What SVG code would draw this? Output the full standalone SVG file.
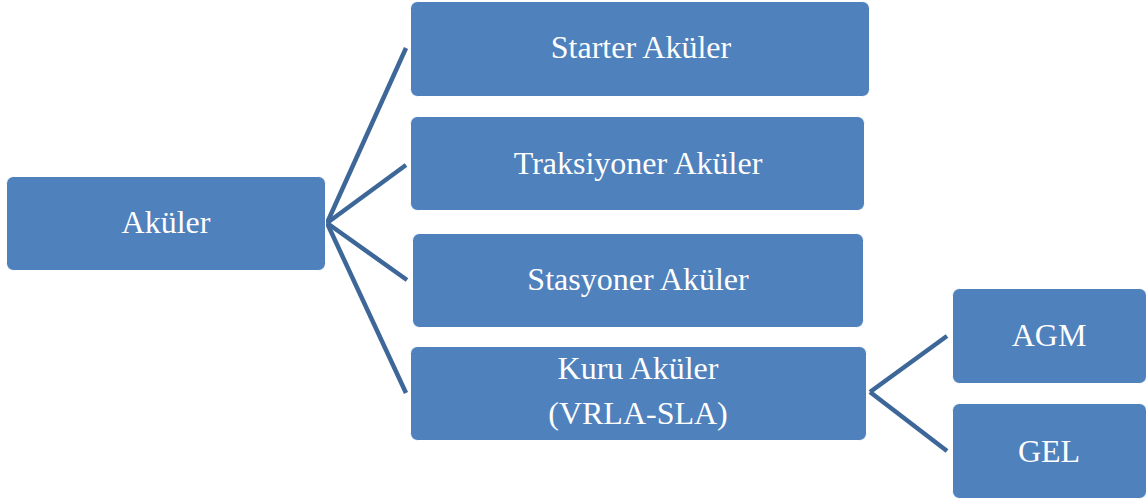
<svg xmlns="http://www.w3.org/2000/svg" width="1146" height="500" viewBox="0 0 1146 500">
  <style>
    .box { fill: #4f81bd; stroke: #ffffff; stroke-width: 1; }
    .lbl { font-family: "Liberation Serif", "Times New Roman", serif; font-size: 32px; fill: #ffffff; text-anchor: middle; }
    .link { stroke: #3e6799; stroke-width: 4.5; fill: none; stroke-linecap: butt; }
  </style>
  <rect width="1146" height="500" fill="#ffffff"/>

  <g id="connectors">
    <line class="link" x1="327" y1="223" x2="406" y2="48"/>
    <line class="link" x1="327" y1="223" x2="406" y2="165"/>
    <line class="link" x1="327" y1="223" x2="407" y2="280"/>
    <line class="link" x1="327" y1="223" x2="406" y2="393"/>
    <line class="link" x1="870" y1="392" x2="947" y2="336"/>
    <line class="link" x1="870" y1="392" x2="947" y2="451"/>
  </g>

  <g id="node-akuler">
    <rect class="box" x="6.5" y="176.5" width="319" height="94" rx="7"/>
    <text class="lbl" x="166" y="233">Aküler</text>
  </g>
  <g id="node-starter">
    <rect class="box" x="410.5" y="1.5" width="459" height="95" rx="7"/>
    <text class="lbl" x="641" y="58">Starter Aküler</text>
  </g>
  <g id="node-traksiyoner">
    <rect class="box" x="410.5" y="116.5" width="454" height="94" rx="7"/>
    <text class="lbl" x="638" y="174">Traksiyoner Aküler</text>
  </g>
  <g id="node-stasyoner">
    <rect class="box" x="412.5" y="233.5" width="451" height="94" rx="7"/>
    <text class="lbl" x="638" y="290">Stasyoner Aküler</text>
  </g>
  <g id="node-kuru">
    <rect class="box" x="410.5" y="346.5" width="456" height="94" rx="7"/>
    <text class="lbl" x="638" y="379">Kuru Aküler</text>
    <text class="lbl" x="638" y="424">(VRLA-SLA)</text>
  </g>
  <g id="node-agm">
    <rect class="box" x="952.5" y="288.5" width="194" height="95" rx="7"/>
    <text class="lbl" x="1049" y="346">AGM</text>
  </g>
  <g id="node-gel">
    <rect class="box" x="952.5" y="403.5" width="194" height="95" rx="7"/>
    <text class="lbl" x="1049" y="462">GEL</text>
  </g>
</svg>
